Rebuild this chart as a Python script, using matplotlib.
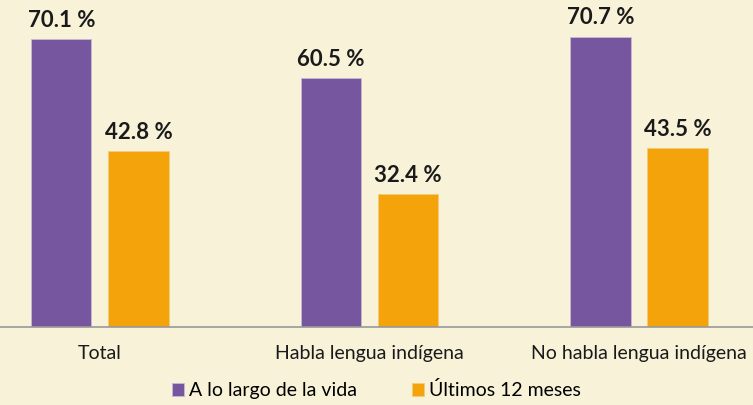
import numpy as np
import matplotlib.pyplot as plt

categories = ["Total", "Habla lengua indígena", "No habla lengua indígena"]
vida = [70.1, 60.5, 70.7]
ultimos = [42.8, 32.4, 43.5]
series_names = ["A lo largo de la vida", "Últimos 12 meses"]

bg = "#F7F2D8"
purple = "#7756A0"
orange = "#F4A30A"

plt.rcParams["font.family"] = ["Lato", "DejaVu Sans"]

fig = plt.figure(figsize=(7.53, 4.05), dpi=100, facecolor=bg)
ax = fig.add_axes([0, 78 / 405, 1, 327 / 405], facecolor=bg)

x = np.arange(len(categories))
w = 0.223
off = 0.143
b1 = ax.bar(x - off, vida, w, color=purple, edgecolor="#C9B9D6", linewidth=0.6,
            label=series_names[0])
b2 = ax.bar(x + off, ultimos, w, color=orange, edgecolor="#F2CC7A", linewidth=0.6,
            label=series_names[1])

for bars in (b1, b2):
    for r in bars:
        ax.annotate(f"{r.get_height():.1f} %", (r.get_x() + r.get_width() / 2, r.get_height()),
                    xytext=(0, 6), textcoords="offset points", ha="center", va="bottom",
                    fontsize=16, fontweight="bold", color="#1a1a1a")

ax.set_xlim(-0.371, 2.423)
ax.set_ylim(0, 79.6)
ax.set_xticks(x)
ax.set_xticklabels(categories, fontsize=14, color="#1a1a1a")
ax.tick_params(axis="x", length=0, pad=13)
ax.set_yticks([])
for s in ["top", "right", "left"]:
    ax.spines[s].set_visible(False)
ax.spines["bottom"].set_color("#999999")
ax.spines["bottom"].set_linewidth(1.2)

fig.legend(handles=[b1, b2], loc="center", bbox_to_anchor=(0.5, 15 / 405), ncol=2,
           frameon=False, fontsize=14, handlelength=0.65, handleheight=0.65,
           handletextpad=0.25, columnspacing=2.8)

fig.savefig("out.png", dpi=100, facecolor=bg)
